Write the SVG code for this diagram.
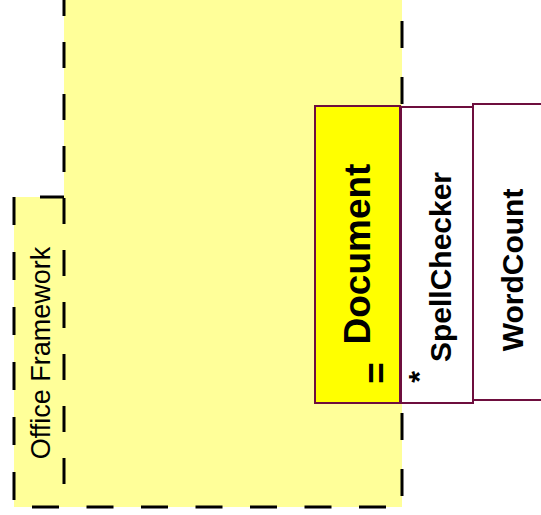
<svg xmlns="http://www.w3.org/2000/svg" width="541" height="515" viewBox="0 0 541 515">
<style>
.bg{fill:#FFFF99;stroke:none}
.dash{fill:none;stroke:#000;stroke-width:3}
.box{stroke:#6E0E3E;stroke-width:2}
.lbl{font-family:"Liberation Sans",Arial,sans-serif;font-weight:bold;fill:#000}
.pkg{font-family:"Liberation Sans",Arial,sans-serif;fill:#000}
</style>
<g id="office-framework">
<rect class="bg" x="64" y="0" width="338" height="507"/>
<rect class="bg" x="14" y="197" width="50" height="310"/>
<path class="dash" d="M14,197 V507" stroke-dasharray="28 27"/>
<path class="dash" d="M40,197 H64"/>
<path class="dash" d="M64,-10 V505" stroke-dasharray="26 26"/>
<path class="dash" d="M402,21 V500" stroke-dasharray="27 29"/>
<path class="dash" d="M32,507 H402" stroke-dasharray="27 27.5"/>
<text class="pkg" font-size="27" text-anchor="middle" transform="translate(50,353) rotate(-90)">Office Framework</text>
</g>
<g id="document">
<rect class="box" x="315" y="106" width="85" height="297" fill="#FFFF00"/>
<text class="lbl" font-size="37" text-anchor="middle" transform="translate(370,254) rotate(-90)">Document</text>
<text class="lbl" font-size="37" text-anchor="middle" transform="translate(389,373) rotate(-90)">=</text>
</g>
<g id="spellchecker">
<rect class="box" x="401" y="107" width="72" height="296" fill="#FFFFFF"/>
<text class="lbl" font-size="30" text-anchor="middle" transform="translate(451,267) rotate(-90)">SpellChecker</text>
<text class="lbl" font-size="30" text-anchor="middle" transform="translate(429,377) rotate(-90)">*</text>
</g>
<g id="wordcount">
<rect class="box" x="473" y="104" width="80" height="296" fill="#FFFFFF"/>
<text class="lbl" font-size="30" text-anchor="middle" transform="translate(523,270) rotate(-90)">WordCount</text>
</g>
<g id="connectors"></g>
</svg>
